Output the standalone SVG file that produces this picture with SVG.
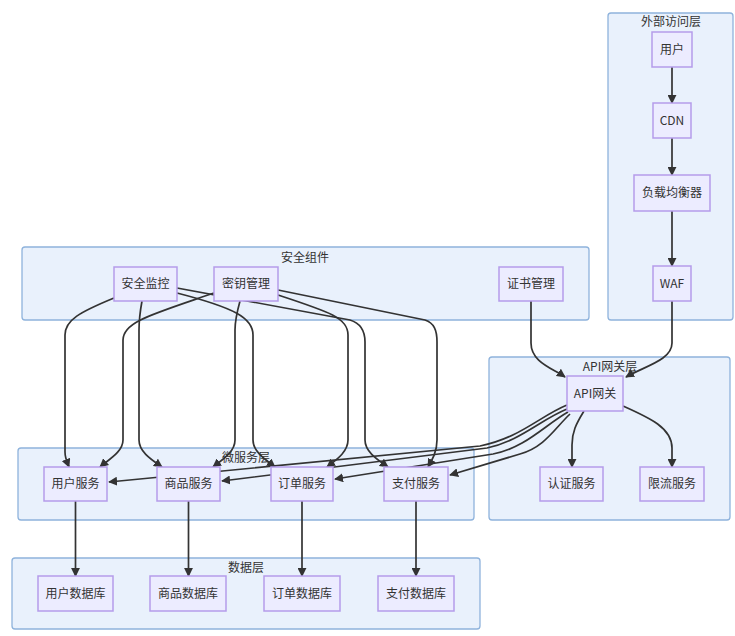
<svg xmlns="http://www.w3.org/2000/svg" width="735" height="636" viewBox="0 0 735 636">
<style>
.cl{fill:#e9f1fc;stroke:#8fb3dc;stroke-width:1.3}
.nd{fill:#ececff;stroke:#b59cea;stroke-width:1.5}
.t{font-family:"Noto Sans CJK SC","Liberation Sans",sans-serif;font-size:12px;fill:#333;text-anchor:middle}
.e{fill:none;stroke:#333;stroke-width:1.7;marker-end:url(#ah)}
</style>
<defs>
<marker id="ah" viewBox="0 0 10 10" refX="9" refY="5" markerWidth="9" markerHeight="9" markerUnits="userSpaceOnUse" orient="auto">
<path d="M0,0 L10,5 L0,10 z" fill="#333"/>
</marker>
</defs>
<g id="clusters">
<g id="c-external"><rect class="cl" x="608" y="13" width="125" height="307" rx="3"/><text class="t" x="671" y="26">外部访问层</text></g>
<g id="c-security"><rect class="cl" x="22" y="247" width="567" height="73" rx="3"/><text class="t" x="305" y="262">安全组件</text></g>
<g id="c-gateway"><rect class="cl" x="489" y="357" width="241" height="163" rx="3"/><text class="t" x="610" y="371">API网关层</text></g>
<g id="c-micro"><rect class="cl" x="18" y="448" width="456" height="72" rx="3"/><text class="t" x="246" y="462">微服务层</text></g>
<g id="c-data"><rect class="cl" x="12" y="558" width="468" height="71" rx="3"/><text class="t" x="246" y="572">数据层</text></g>
</g>
<g id="edges">
<path class="e" d="M672,67 L672,103"/>
<path class="e" d="M672,138 L672,175"/>
<path class="e" d="M672,211 L672,266"/>
<path class="e" d="M672,301 L672,343 C672,360 645,366 626,377"/>
<path class="e" d="M531,301 L531,343 C531,362 552,368 565,377"/>
<path class="e" d="M584,411 C576,424 572,432 572,445 L572,467"/>
<path class="e" d="M623,406 C650,418 672,428 672,448 L672,467"/>
<path class="e" d="M114,298 C80,312 65,320 65,335 L65,452 C65,458 67,462 69,467"/>
<path class="e" d="M214,293 C150,315 123,322 123,340 L123,440 C123,452 108,460 100,467"/>
<path class="e" d="M142,301 C140,312 139,320 139,330 L139,440 C139,452 152,460 162,467"/>
<path class="e" d="M177,293 C235,308 253,318 253,335 L253,440 C253,452 266,460 275,467"/>
<path class="e" d="M240,301 C237,312 235,320 235,330 L235,440 C235,452 222,460 213,467"/>
<path class="e" d="M278,295 C330,312 348,318 348,335 L348,440 C348,452 336,460 327,467"/>
<path class="e" d="M177,288 L350,320 C360,323 365,330 365,342 L365,440 C365,452 378,460 388,467"/>
<path class="e" d="M278,290 L425,320 C434,323 437,330 437,342 L437,440 C437,452 432,460 428,467"/>
<path class="e" d="M567,405 C540,416 520,438 480,446 L109,482"/>
<path class="e" d="M567,409 C540,420 520,441 487,448 L222,481"/>
<path class="e" d="M568,412 C545,425 525,448 493,454 L335,479"/>
<path class="e" d="M570,414 C555,428 545,447 520,454 L450,475"/>
<path class="e" d="M75.5,501 L75.5,576"/>
<path class="e" d="M188.5,501 L188.5,576"/>
<path class="e" d="M302,501 L302,576"/>
<path class="e" d="M416,501 L416,576"/>
</g>
<g id="n-user"><rect class="nd" x="652" y="32" width="40" height="35"/><text class="t" x="672" y="54">用户</text></g>
<g id="n-cdn"><rect class="nd" x="653" y="103" width="38" height="35"/><text class="t" x="672" y="125">CDN</text></g>
<g id="n-lb"><rect class="nd" x="634" y="175" width="76" height="36"/><text class="t" x="672" y="197">负载均衡器</text></g>
<g id="n-waf"><rect class="nd" x="653" y="266" width="38" height="35"/><text class="t" x="672" y="288">WAF</text></g>
<g id="n-secmon"><rect class="nd" x="114" y="267" width="63" height="34"/><text class="t" x="145.5" y="288">安全监控</text></g>
<g id="n-keymgr"><rect class="nd" x="214" y="267" width="64" height="34"/><text class="t" x="246" y="288">密钥管理</text></g>
<g id="n-certmgr"><rect class="nd" x="499" y="267" width="64" height="34"/><text class="t" x="531" y="288">证书管理</text></g>
<g id="n-apigw"><rect class="nd" x="567" y="376" width="56" height="35"/><text class="t" x="595" y="398">API网关</text></g>
<g id="n-auth"><rect class="nd" x="540" y="467" width="63" height="34"/><text class="t" x="571.5" y="488">认证服务</text></g>
<g id="n-rate"><rect class="nd" x="640" y="467" width="64" height="34"/><text class="t" x="672" y="488">限流服务</text></g>
<g id="n-usersvc"><rect class="nd" x="44" y="467" width="63" height="34"/><text class="t" x="75.5" y="488">用户服务</text></g>
<g id="n-prodsvc"><rect class="nd" x="157" y="467" width="63" height="34"/><text class="t" x="188.5" y="488">商品服务</text></g>
<g id="n-ordersvc"><rect class="nd" x="271" y="467" width="62" height="34"/><text class="t" x="302" y="488">订单服务</text></g>
<g id="n-paysvc"><rect class="nd" x="384" y="467" width="64" height="34"/><text class="t" x="416" y="488">支付服务</text></g>
<g id="n-userdb"><rect class="nd" x="38" y="576" width="75" height="35"/><text class="t" x="75.5" y="598">用户数据库</text></g>
<g id="n-proddb"><rect class="nd" x="150" y="576" width="76" height="35"/><text class="t" x="188" y="598">商品数据库</text></g>
<g id="n-orderdb"><rect class="nd" x="264" y="576" width="76" height="35"/><text class="t" x="302" y="598">订单数据库</text></g>
<g id="n-paydb"><rect class="nd" x="378" y="576" width="76" height="35"/><text class="t" x="416" y="598">支付数据库</text></g>
</svg>
